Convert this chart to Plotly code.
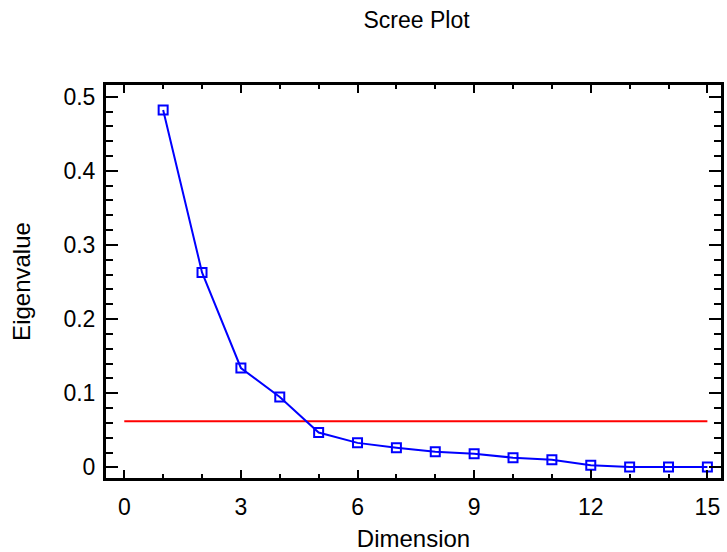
import plotly.graph_objects as go

dimension = list(range(1, 16))
eigenvalue = [0.482, 0.263, 0.134, 0.095, 0.047, 0.033, 0.0265, 0.021, 0.0184,
              0.013, 0.0103, 0.0027, 0.0004, 0.0003, 0.0003]
threshold_x = [0, 15]
threshold_y = [0.062, 0.062]

x_ticks = [0, 3, 6, 9, 12, 15]
y_ticks = [0, 0.1, 0.2, 0.3, 0.4, 0.5]

FONT = "Liberation Sans, Arial, sans-serif"

fig = go.Figure()
fig.add_trace(go.Scatter(x=threshold_x, y=threshold_y, mode="lines",
                         line=dict(color="#ff0000", width=2), showlegend=False))
fig.add_trace(go.Scatter(x=dimension, y=eigenvalue, mode="lines+markers",
                         line=dict(color="#0000ff", width=2),
                         marker=dict(symbol="square-open", size=9,
                                     color="#0000ff", line=dict(width=2, color="#0000ff")),
                         showlegend=False))

fig.update_layout(
    width=727, height=552,
    margin=dict(l=106, r=3, t=85, b=74),
    paper_bgcolor="white", plot_bgcolor="white",
    font=dict(family=FONT, size=23, color="black"),
    title=dict(text="Scree Plot", xref="paper", x=0.505, xanchor="center",
               yref="container", y=0.964, yanchor="middle",
               font=dict(family=FONT, size=23, color="black")),
)
fig.update_xaxes(
    range=[-0.47, 15.35], tickvals=x_ticks, ticks="inside", ticklen=8, tickwidth=2,
    tickcolor="black", showline=True, linewidth=3, linecolor="black", mirror="ticks",
    showgrid=False, zeroline=False, ticklabelstandoff=6,
    minor=dict(dtick=1, tick0=0, ticks="inside", ticklen=4, tickwidth=2, tickcolor="black", showgrid=False),
    title=dict(text="Dimension", standoff=12, font=dict(size=24)),
    tickfont=dict(size=23),
)
fig.update_yaxes(
    range=[-0.0144, 0.5158], tickvals=y_ticks, ticks="inside", ticklen=12, tickwidth=2,
    tickcolor="black", showline=True, linewidth=3, linecolor="black", mirror="ticks",
    showgrid=False, zeroline=False, ticklabelstandoff=3,
    minor=dict(dtick=0.02, tick0=0, ticks="inside", ticklen=7, tickwidth=2, tickcolor="black", showgrid=False),
    title=dict(text="Eigenvalue", standoff=27, font=dict(size=24)),
    tickfont=dict(size=23),
)

fig.write_html("out.html", config={"displayModeBar": False},
               post_script="document.body.style.margin='0';")
